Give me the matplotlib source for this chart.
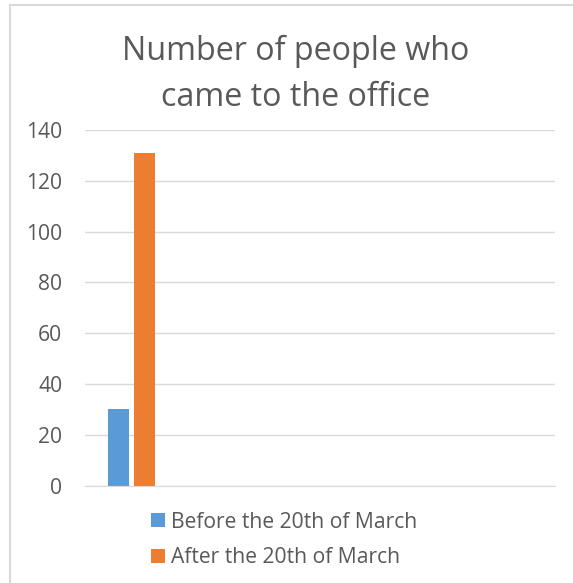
import matplotlib.pyplot as plt
from matplotlib.lines import Line2D
import numpy as np

title_lines = ['Number of people who', 'came to the office']
categories = ['1', '2', '3', '4', '5']
before = [30, 0, 0, 0, 0]
after = [131, 0, 0, 0, 0]
series_names = ['Before the 20th of March', 'After the 20th of March']
yticks = [0, 20, 40, 60, 80, 100, 120, 140]

plt.rcParams['font.family'] = ['Open Sans', 'DejaVu Sans']
grey = '#595959'
line_grey = '#d9d9d9'

fig = plt.figure(figsize=(5.73, 5.83), dpi=100)
ax = fig.add_axes([84.5 / 573, 97.3 / 583, 470 / 573, 355.7 / 583])

# excel-like layout: gap width 219%, overlap -27%
w = 1 / (2 + 0.27 + 2.19)
x = np.arange(len(categories))
off = (w + 0.27 * w) / 2
ax.bar(x - off, before, width=w, color='#5b9bd5', label=series_names[0])
ax.bar(x + off, after, width=w, color='#ed7d31', label=series_names[1])

ax.set_xlim(-0.5, len(categories) - 0.5)
ax.set_ylim(0, 140)
ax.set_yticks(yticks)
ax.set_xticks([])
ax.yaxis.grid(True, color=line_grey, lw=1)
ax.set_axisbelow(True)
for s in ['top', 'right', 'left']:
    ax.spines[s].set_visible(False)
ax.spines['bottom'].set_color(line_grey)
ax.tick_params(axis='y', length=0, pad=16, labelsize=15.2, labelcolor=grey)

# title as two lines, placed one by one
for line, ypx in zip(title_lines, [60, 106]):
    fig.text(296 / 573, 1 - ypx / 583, line, ha='center', va='baseline',
             fontsize=23.2, color=grey)

leg = fig.legend(loc='upper left', bbox_to_anchor=(140 / 573, 1 - 501 / 583),
                 frameon=False, fontsize=15.2, handlelength=0.68, handleheight=0.68,
                 handletextpad=0.3, labelspacing=0.7, borderpad=0)
for t in leg.get_texts():
    t.set_color(grey)

# chart frame
fig.add_artist(Line2D([10 / 573, 1], [1 - 5 / 583, 1 - 5 / 583], color=line_grey, lw=1.5))
fig.add_artist(Line2D([10 / 573, 10 / 573], [0, 1 - 5 / 583], color=line_grey, lw=1.5))

plt.savefig('out.png', dpi=100)
